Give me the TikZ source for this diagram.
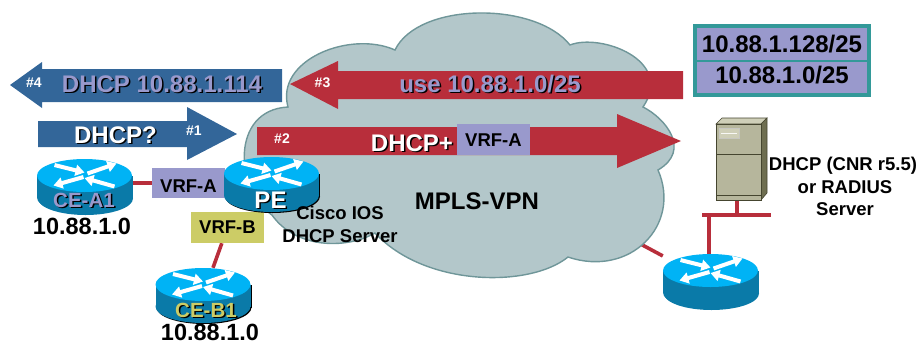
\documentclass[tikz,border=0pt]{standalone}
\usepackage{fontspec}
\setmainfont{Liberation Sans}
\usetikzlibrary{arrows.meta}
\definecolor{cred}{HTML}{B82E3B}
\definecolor{cblue}{HTML}{336699}
\definecolor{cpurple}{HTML}{9999CC}
\definecolor{cteal}{HTML}{339999}
\definecolor{ccloud}{HTML}{B3C7CA}
\definecolor{ccloudline}{HTML}{6F9699}
\definecolor{cyellow}{HTML}{CCCC66}
\definecolor{rtop}{HTML}{00B3F5}
\definecolor{rside}{HTML}{0A7AA8}
\definecolor{srvface}{HTML}{B6B69C}
\definecolor{srvtop}{HTML}{CFCFB8}
\definecolor{srvside}{HTML}{6E6E50}
\definecolor{srvline}{HTML}{45452F}
\pgfdeclarelayer{underlayer}
\pgfdeclarelayer{cloudlayer}
\pgfdeclarelayer{linelayer}
\pgfsetlayers{underlayer,cloudlayer,linelayer,main}
\newcommand{\fs}[1]{\fontsize{#1}{#1}\selectfont\bfseries}
\tikzset{
  lbl/.style={anchor=base,inner sep=0pt,align=center},
  box/.style={inner sep=0pt,text=black},
  link/.style={cred,line width=3.6pt},
  rarrow/.style={white,line width=4pt,-{Triangle[width=11pt,length=9pt]}},
  routerbox/.style={minimum width=95pt,minimum height=55pt,inner sep=0pt}
}
% #1 name, #2 x, #3 y, #4 colour, #5 size, #6 text
\newcommand{\shlabel}[6]{%
  \node[lbl,text=black] at (#2+1.5,#3+1.5) {\fs{#5}#6};
  \node[lbl,text=#4] (#1) at (#2,#3) {\fs{#5}#6};}
% #1 name, #2 cx, #3 cy, #4 shadow colour
\newcommand{\routerart}[4]{%
  \begin{scope}[shift={(#2,#3)}]
    \fill[#4] (1,12) ellipse [x radius=47.5pt,y radius=16.5pt];
    \fill[#4] (48.5,-11) rectangle (47,12);
    \fill[rside] (-47.5,-11) rectangle (47.5,11);
    \fill[rside] (0,11) ellipse [x radius=47.5pt,y radius=16.5pt];
    \fill[rtop] (0,-11) ellipse [x radius=47.5pt,y radius=16.5pt];
    \draw[rarrow] (-30,-21.5) -- (0,-14);
    \draw[rarrow] (3,-13) -- (32,-23);
    \draw[rarrow] (-1,-9.5) -- (-31,-1);
    \draw[rarrow] (30,0) -- (0,-8.5);
  \end{scope}
  \node[routerbox] (#1) at (#2,#3) {};}
\begin{document}
\begin{tikzpicture}[x=1pt,y=-1pt]
\useasboundingbox (0,0) rectangle (919,346);

% cloud
\begin{pgfonlayer}{cloudlayer}
\draw[fill=ccloud,draw=ccloudline,line width=1.4pt,line join=miter]
  (395,50) .. controls (418,2) and (535,1) .. (570,45)
  .. controls (600,33) and (675,60) .. (643,107)
  .. controls (665,118) and (692,150) .. (658,170)
  .. controls (682,225) and (630,278) .. (568,257)
  .. controls (530,288) and (425,287) .. (375,233)
  .. controls (345,250) and (295,248) .. (272,215)
  .. controls (235,190) and (230,110) .. (288,107)
  .. controls (275,60) and (350,30) .. (395,50) -- cycle;
\end{pgfonlayer}

% block arrows
\fill[cblue] (10,85) -- (42,62) -- (42,69) -- (282,69) -- (282,102) -- (42,102) -- (42,108) -- cycle;
\fill[cblue] (38,121) -- (187,121) -- (187,107) -- (237,134) -- (187,160) -- (187,147) -- (38,147) -- cycle;
\fill[cred] (290,84) -- (338,61) -- (338,71) -- (683,71) -- (683,99) -- (338,99) -- (338,109) -- cycle;
\fill[cred] (257,127) -- (617,127) -- (617,114) -- (681,141) -- (617,168) -- (617,155) -- (257,155) -- cycle;

% boxes
\node[box,fill=cpurple,minimum width=73pt,minimum height=30pt,text height=18pt] (vrfaL) at (188.5,183) {\fs{18.5}VRF-A};
\node[box,fill=cyellow,minimum width=73pt,minimum height=31pt,text height=11pt] (vrfb) at (227.5,227.5) {\fs{18.5}VRF-B};
\node[box,fill=cpurple,minimum width=73pt,minimum height=31pt,text height=13pt] (vrfaM) at (493.5,139.5) {\fs{18.5}VRF-A};

% address table
\node[box,fill=cteal,minimum width=178pt,minimum height=73pt] (tbl) at (782,60.5) {};
\node[box,fill=cpurple,minimum width=170pt,minimum height=32pt,text height=18pt] (cellA) at (782,44) {\fs{24}10.88.1.128/25};
\node[box,fill=cpurple,minimum width=170pt,minimum height=31pt,text height=13pt] (cellB) at (782,77.5) {\fs{24}10.88.1.0/25};

% server
\fill[srvtop,draw=srvline,line width=.6pt] (716,124) -- (722,118) -- (767,118) -- (761,124) -- cycle;
\fill[srvside,draw=srvline,line width=.6pt] (761,124) -- (767,118) -- (767,193) -- (761,200) -- cycle;
\node[box,fill=srvface,draw=srvline,line width=.7pt,minimum width=45pt,minimum height=76pt] (srv) at (738.5,162) {};
\draw[srvline,line width=.8pt] (716,154) -- (761,154) (716,195) -- (761,195);
\draw[fill=srvtop,draw=white!70!srvline,line width=.7pt] (719,128) rectangle (739,138);
\draw[white!90!srvface,line width=1pt] (721,133) -- (737,133);

% routers
\routerart{ceA}{84.5}{186.5}{rside}
\routerart{pe}{271.5}{184.5}{black}
\routerart{ceB}{203}{295.5}{black}
\routerart{rR}{710.5}{281.5}{rside}

% connectors
\coordinate (cloudR) at (620,233);
\coordinate (busL) at (702,215);
\coordinate (busR) at (771,215);
\coordinate (busS) at (737,215);
\coordinate (busD) at (709,215);
\begin{pgfonlayer}{underlayer}
\draw[link] (cloudR) -- (rR);
\end{pgfonlayer}
\begin{pgfonlayer}{linelayer}
\draw[link] (ceA.center |- vrfaL) -- (vrfaL);
\draw[link] (vrfb) -- (ceB);
\draw[link] (busL) -- (busR);
\draw[link] (srv.south -| busS) -- (busS);
\draw[link] (busD) -- (busD |- rR.north);
\end{pgfonlayer}

% shadowed labels
\shlabel{t4}{162}{92}{cpurple}{24}{DHCP 10.88.1.114}
\shlabel{t1}{115.5}{143}{white}{24}{DHCP?}
\shlabel{t3}{490}{92}{cpurple}{24}{use 10.88.1.0/25}
\shlabel{t2}{412}{151}{white}{24}{DHCP+}
\shlabel{lA}{84}{207}{cpurple}{20.5}{CE-A1}
\shlabel{lP}{270.5}{208}{white}{24}{PE}
\shlabel{lB}{206}{317}{cyellow}{20.5}{CE-B1}

% plain labels
\node[lbl,text=white] (n4) at (34,87) {\fs{14}\#4};
\node[lbl,text=white] (n1) at (194,135) {\fs{14}\#1};
\node[lbl,text=white] (n2) at (282,143) {\fs{14}\#2};
\node[lbl,text=white] (n3) at (322.5,87) {\fs{14}\#3};
\node[lbl] (mpls) at (477,209) {\fs{24}MPLS-VPN};
\node[lbl] (ios1) at (340,219) {\fs{18.5}Cisco IOS};
\node[lbl] (ios2) at (340,242) {\fs{18.5}DHCP Server};
\node[lbl] (addrA) at (82,234) {\fs{23.5}10.88.1.0};
\node[lbl] (addrB) at (210,340) {\fs{23.5}10.88.1.0};
\node[lbl] (srvT1) at (843,170) {\fs{18.5}DHCP (CNR r5.5)};
\node[lbl] (srvT2) at (845,193) {\fs{18.5}or RADIUS};
\node[lbl] (srvT3) at (845,215) {\fs{18.5}Server};
\end{tikzpicture}
\end{document}
